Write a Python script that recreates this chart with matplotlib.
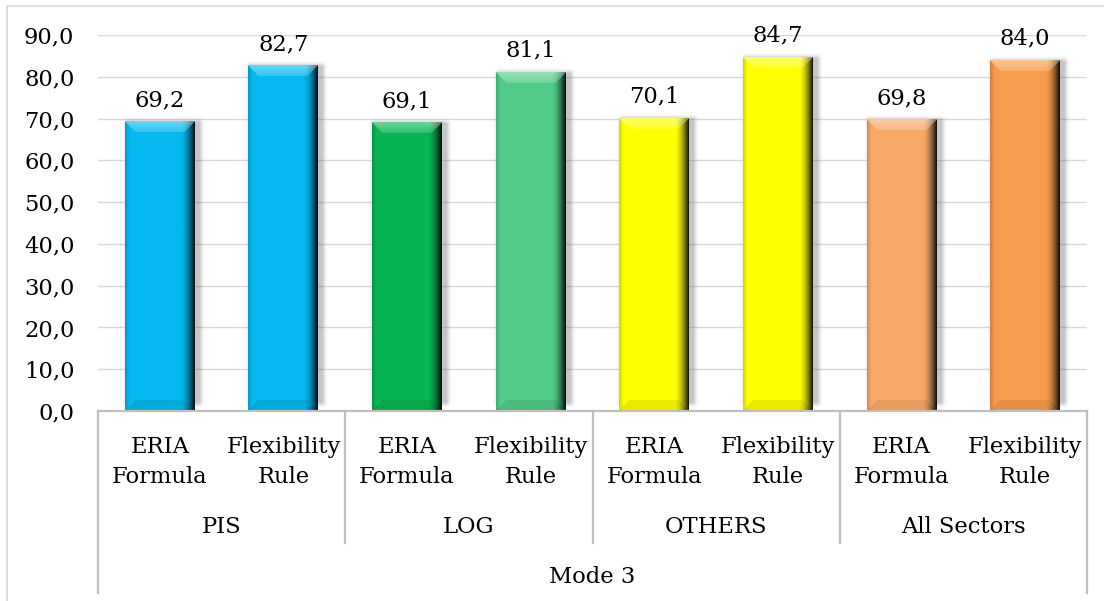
import numpy as np
import matplotlib
matplotlib.use("Agg")
import matplotlib.pyplot as plt
from matplotlib import transforms
from matplotlib.lines import Line2D
from matplotlib.colors import to_rgb
from matplotlib.ticker import FuncFormatter

# ---- data ----
groups = ["PIS", "LOG", "OTHERS", "All Sectors"]
methods = ["ERIA\nFormula", "Flexibility\nRule"]
values = [69.2, 82.7, 69.1, 81.1, 70.1, 84.7, 69.8, 84.0]
bar_colors = ["#05B8F0", "#05B8F0", "#07B552", "#50CC88",
              "#FFFF00", "#FFFF00", "#F8AA68", "#F79C4C"]
top_label = "Mode 3"
yticks = [0, 10, 20, 30, 40, 50, 60, 70, 80, 90]

W_PX, H_PX = 1104, 601
plt.rcParams['font.family'] = ['DejaVu Serif']
fig = plt.figure(figsize=(W_PX / 100, H_PX / 100), dpi=100)
FS = 16.3

def fx(px):
    return px / W_PX

def fy(py):
    return 1 - py / H_PX

ax_l, ax_r, ax_t, ax_b = 98, 1087, 35, 411
ax = fig.add_axes([fx(ax_l), fy(ax_b), fx(ax_r - ax_l), (ax_b - ax_t) / H_PX])

n = len(values)
x = np.arange(n)
bw = 0.566
bars = ax.bar(x, values, width=bw, color=bar_colors, zorder=3)

ax.set_xlim(-0.5, n - 0.5)
ax.set_ylim(0, 90)

# pixel scales
sx = (ax_r - ax_l) / n
sy = (ax_b - ax_t) / 90.0


def bevel_image(color, Wp, Hp, b=11):
    c = np.array(to_rgb(color))
    img = np.ones((Hp, Wp, 3)) * c
    jj, ii = np.meshgrid(np.arange(Wp), np.arange(Hp))
    u = jj / max(Wp - 1, 1)
    dark = np.clip((u - 0.80) / 0.20, 0, 1) ** 1.7
    img = img * (1 - 0.9 * dark)[..., None]
    left = np.clip((0.06 - u) / 0.06, 0, 1)
    img = img * (1 - 0.15 * left)[..., None]
    top = (ii < b) & (jj >= ii) & (jj <= Wp - 1 - ii)
    t = 1 - ii / b
    mix = (0.15 + 0.25 * t)
    white = np.ones(3)
    img = np.where(top[..., None], img * (1 - mix[..., None]) + white * mix[..., None], img)
    bot = (ii > Hp - 1 - b) & (jj >= Hp - 1 - ii) & (jj <= Wp - 1 - (Hp - 1 - ii))
    img = np.where(bot[..., None], img * 0.92, img)
    return np.clip(img, 0, 1)


def shadow_image(Wp, Hp, pad):
    Wt, Ht = Wp + 2 * pad, Hp + 2 * pad
    jj, ii = np.meshgrid(np.arange(Wt), np.arange(Ht))
    x0, x1 = pad + 3, pad + Wp + 3
    y0, y1 = pad + 2, pad + Hp
    dx = np.maximum(np.maximum(x0 - jj, jj - x1), 0)
    dy = np.maximum(np.maximum(y0 - ii, ii - y1), 0)
    d = np.sqrt(dx ** 2 + dy ** 2)
    a = 0.35 * np.exp(-(d / 3.5) ** 2)
    img = np.zeros((Ht, Wt, 4))
    img[..., :3] = 0.35
    img[..., 3] = a
    return img


for rect, col in zip(bars, bar_colors):
    bx, bwid, bh = rect.get_x(), rect.get_width(), rect.get_height()
    Wp = int(round(bwid * sx))
    Hp = int(round(bh * sy))
    pad = 10
    sh = shadow_image(Wp, Hp, pad)
    ax.imshow(sh, extent=(bx - pad / sx, bx + bwid + pad / sx, 0, bh + pad / sy),
              aspect='auto', zorder=2, interpolation='bilinear')
    img = bevel_image(col, Wp, Hp)
    ax.imshow(img, extent=(bx, bx + bwid, 0, bh), aspect='auto', zorder=4,
              interpolation='bilinear')

ax.set_xlim(-0.5, n - 0.5)
ax.set_ylim(0, 90)

# value labels
for xi, v in zip(x, values):
    ax.annotate(f"{v:.1f}".replace('.', ','), (xi, v), xytext=(0, 11),
                textcoords='offset points', ha='center', va='baseline',
                fontsize=FS, color='#000000', zorder=6)

# y axis
ax.set_yticks(yticks)
ax.yaxis.set_major_formatter(FuncFormatter(lambda v, p: f"{v:.1f}".replace('.', ',')))
ax.tick_params(axis='y', length=0, pad=17, labelsize=FS, colors='#000000')
ax.set_xticks([])
ax.grid(axis='y', color='#D9D9D9', linewidth=1.0, zorder=0)
ax.set_axisbelow(True)
for s in ax.spines.values():
    s.set_visible(False)

ax.axhline(0, color='#BFBFBF', linewidth=1.6, zorder=5, clip_on=False)

# multi-level category axis
tr = transforms.blended_transform_factory(ax.transData, fig.transFigure)
for xi, m in zip(x, methods * len(groups)):
    fig.text(xi, fy(462), m, transform=tr, ha='center', va='center',
             fontsize=FS, linespacing=1.45, color='#000000')
for gi, g in enumerate(groups):
    fig.text(2 * gi + 0.5, fy(527), g, transform=tr, ha='center', va='center',
             fontsize=FS, color='#000000')
fig.text((n - 1) / 2, fy(577), top_label, transform=tr, ha='center', va='center',
         fontsize=FS, color='#000000')

# separators
for gi in range(len(groups) + 1):
    xb = 2 * gi - 0.5
    ybot = 593 if gi in (0, len(groups)) else 543
    fig.add_artist(Line2D([xb, xb], [fy(ax_b), fy(ybot)], transform=tr,
                          color='#BFBFBF', linewidth=1.6))

# chart border (left and top visible)
fig.add_artist(Line2D([fx(7), fx(7)], [fy(6), fy(601)], transform=fig.transFigure,
                      color='#D9D9D9', linewidth=1.2))
fig.add_artist(Line2D([fx(7), fx(1104)], [fy(6), fy(6)], transform=fig.transFigure,
                      color='#D9D9D9', linewidth=1.2))

fig.savefig("out.png", dpi=100)
